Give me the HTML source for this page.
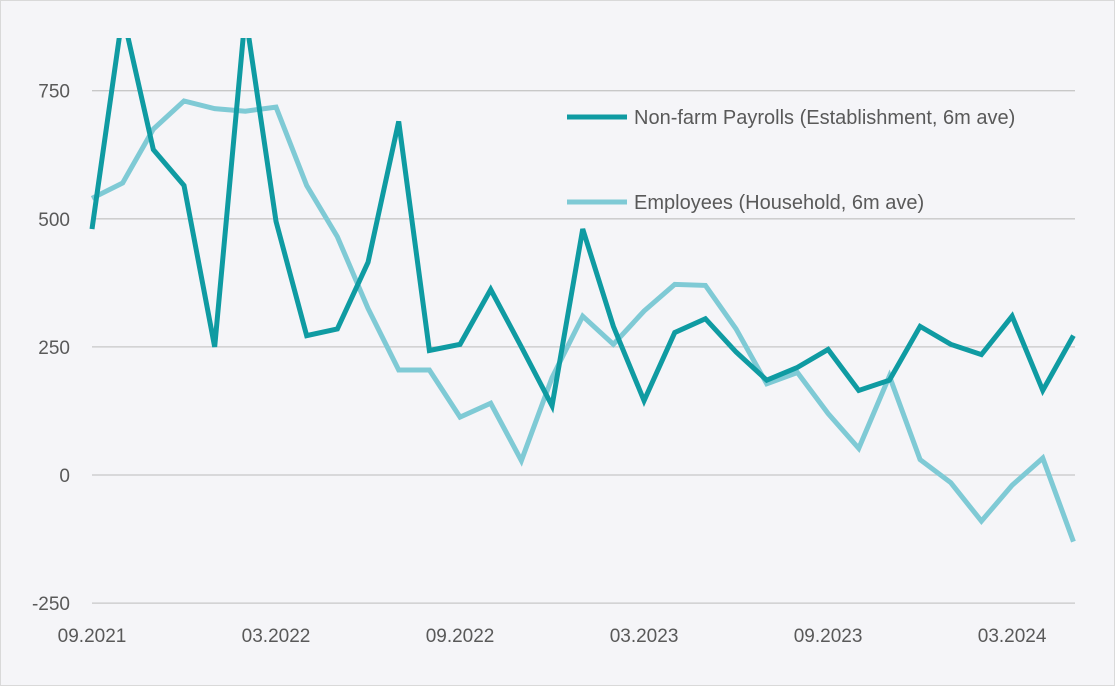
<!DOCTYPE html>
<html><head><meta charset="utf-8"><style>
body{margin:0;background:#fff;}
#wrap{position:absolute;left:0;top:0;width:1115px;height:686px;background:#f5f5f8;}
svg{position:absolute;left:0;top:0;}
text{font-family:"Liberation Sans",sans-serif;fill:#595959;}
</style></head><body>
<div id="wrap">
<svg id="chart" width="1115" height="686"></svg>
</div>
<script>
const months=["09.2021","03.2022","09.2022","03.2023","09.2023","03.2024"];
const yTicks=[750,500,250,0,-250];
const payrolls=[480,900,635,565,250,900,495,272,285,415,690,243,255,362,250,135,480,290,145,278,305,240,185,210,245,165,185,290,255,235,310,165,272];
const household=[540,570,675,730,715,710,718,565,465,325,205,205,113,140,28,190,310,255,320,372,370,285,178,200,120,52,193,30,-15,-90,-20,33,-130];
const NS="http://www.w3.org/2000/svg";
const svg=document.getElementById('chart');
const x0=92,dx=30.67;
const xs=i=>x0+i*dx;
const ys=v=>475-v*0.5124;
function el(t,a){const e=document.createElementNS(NS,t);for(const k in a)e.setAttribute(k,a[k]);svg.appendChild(e);return e;}
const defs=el('defs',{});
const cp=document.createElementNS(NS,'clipPath');cp.setAttribute('id','pc');
const r=document.createElementNS(NS,'rect');r.setAttribute('x',0);r.setAttribute('y',38);r.setAttribute('width',1115);r.setAttribute('height',650);
cp.appendChild(r);defs.appendChild(cp);
el('rect',{x:0.5,y:0.5,width:1114,height:685,fill:'none',stroke:'#d9d9d9'});
yTicks.forEach(v=>{
 const l=el('line',{x1:92,x2:1075,y1:ys(v),y2:ys(v),stroke:'#c8c8c8','stroke-width':1.3});
 
 
 const t=el('text',{x:70,y:ys(v)+7,'text-anchor':'end','font-size':19});
 t.textContent=v;
 
 
});
months.forEach((m,i)=>{
 const t=el('text',{x:xs(i*6),y:642,'text-anchor':'middle','font-size':19});
 t.textContent=m;
 
 
});
function series(d,c,n){
 const p=el('polyline',{points:d.map((v,i)=>xs(i)+','+ys(v)).join(' '),fill:'none',stroke:c,'stroke-width':5,'stroke-linejoin':'miter','clip-path':'url(#pc)'});
 
 
}
series(household,'#7fcad5','household-employees-line');
series(payrolls,'#0f9ba2','nonfarm-payrolls-line');
function legend(y,c,txt,n){
 const l=el('line',{x1:567,x2:627,y1:y,y2:y,stroke:c,'stroke-width':5});
 
 
 const t=el('text',{x:634,y:y+7,'font-size':20});
 t.textContent=txt;
 
 
}
legend(117,'#0f9ba2','Non-farm Payrolls (Establishment, 6m ave)','legend-payrolls');
legend(202,'#7fcad5','Employees (Household, 6m ave)','legend-household');
</script>
</body></html>
